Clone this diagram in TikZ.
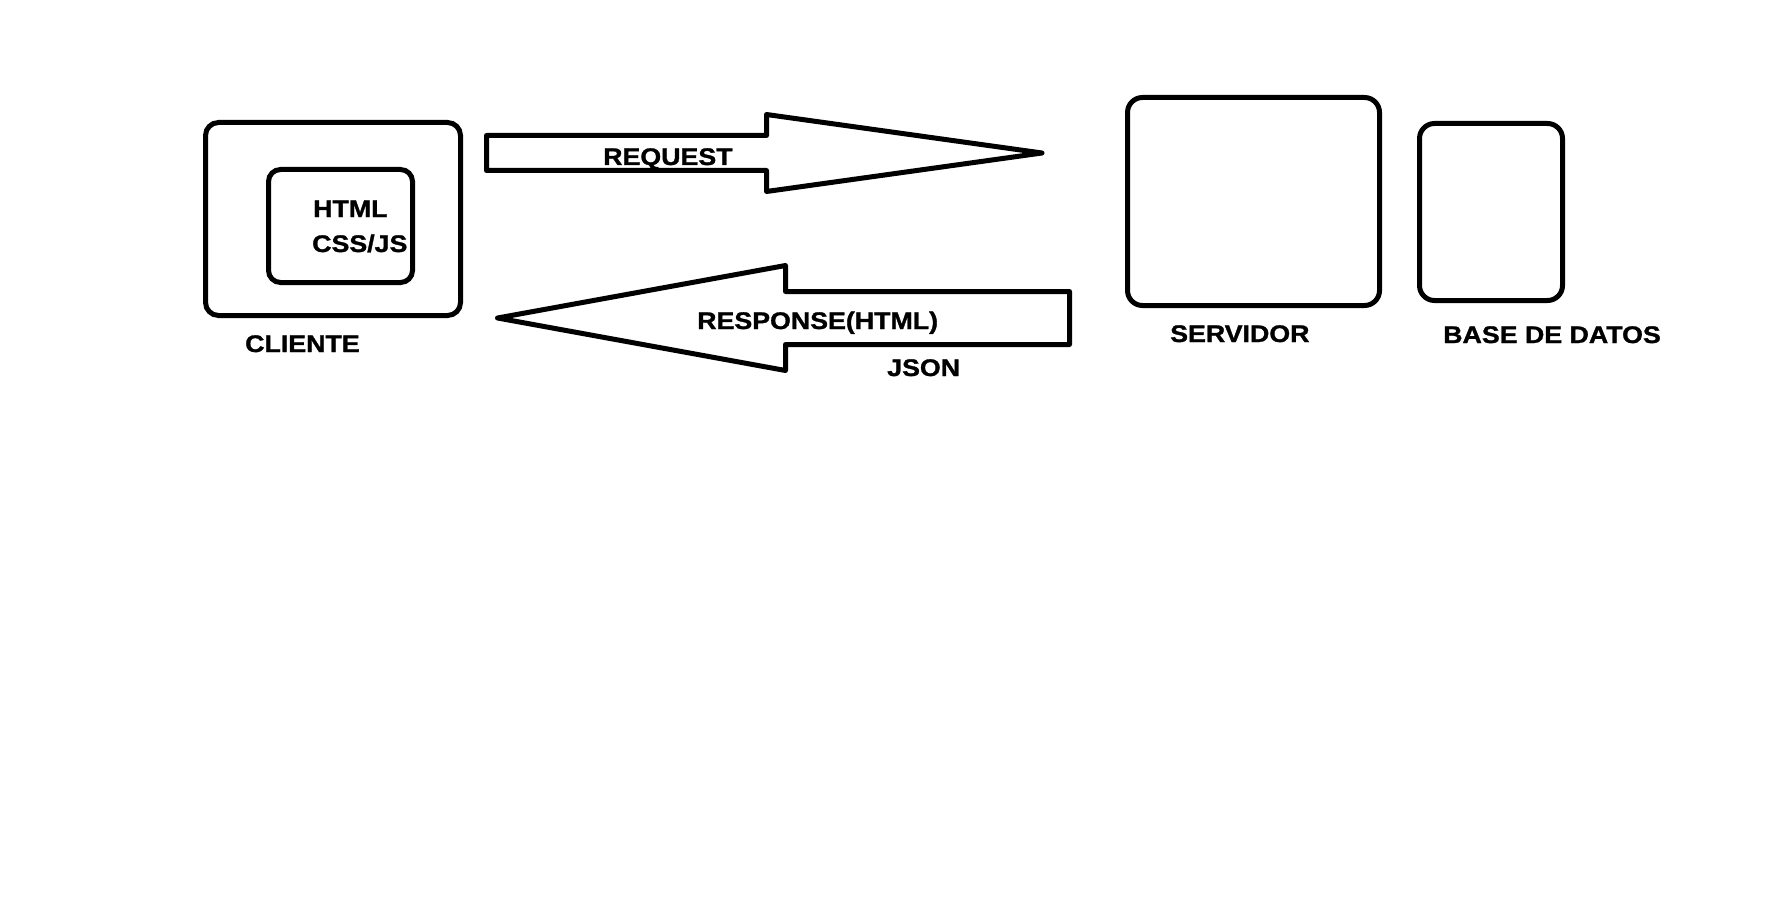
\documentclass[tikz,border=0pt]{standalone}
\usepackage{fontspec}
\setmainfont{Liberation Sans}[BoldFeatures={FakeBold=1.2}]
\newcommand\wtxt[1]{\scalebox{1.115}[1]{#1}}
\tikzset{
  box/.style={draw=black, line width=5pt, rounded corners=13pt, fill=none, inner sep=0pt},
  blockarrow/.style={draw=black, line width=5pt, line join=round},
  lbl/.style={anchor=base west, inner sep=0pt, font=\fontsize{24}{28}\selectfont\bfseries}
}
\begin{document}
\begin{tikzpicture}[x=1pt,y=-1pt]
\useasboundingbox[fill=white] (0,0) rectangle (1771,912);
% boxes
\node[box, minimum width=255pt, minimum height=193pt] (cliente) at (333,219) {};
\node[box, minimum width=144pt, minimum height=113pt, rounded corners=12pt] (html) at (340.5,226) {};
\node[box, minimum width=252pt, minimum height=208pt, rounded corners=15pt] (servidor) at (1253.5,201.5) {};
\node[box, minimum width=143pt, minimum height=177pt, rounded corners=15pt] (bd) at (1491,212) {};
% block arrows
\draw[blockarrow] (486.5,135.5) -- (766.5,135.5) -- (766.5,114.5) -- (1042,153)
  -- (766.5,191.5) -- (766.5,170.5) -- (486.5,170.5) -- cycle;
\draw[blockarrow] (1069.5,291.5) -- (785.5,291.5) -- (785.5,265.5) -- (497.5,318)
  -- (785.5,370.5) -- (785.5,344.5) -- (1069.5,344.5) -- cycle;
% labels
\node[lbl] (thtml) at (313,217) {\wtxt{HTML}};
\node[lbl] (tcss) at (312,252) {\wtxt{CSS/JS}};
\node[lbl] (tcliente) at (245,352) {\wtxt{CLIENTE}};
\node[lbl] (treq) at (603,165) {\wtxt{REQUEST}};
\node[lbl] (tresp) at (697,329) {\wtxt{RESPONSE(HTML)}};
\node[lbl] (tjson) at (887,376) {\wtxt{JSON}};
\node[lbl] (tserv) at (1170,342) {\wtxt{SERVIDOR}};
\node[lbl] (tbd) at (1443,343) {\wtxt{BASE DE DATOS}};
\end{tikzpicture}
\end{document}
